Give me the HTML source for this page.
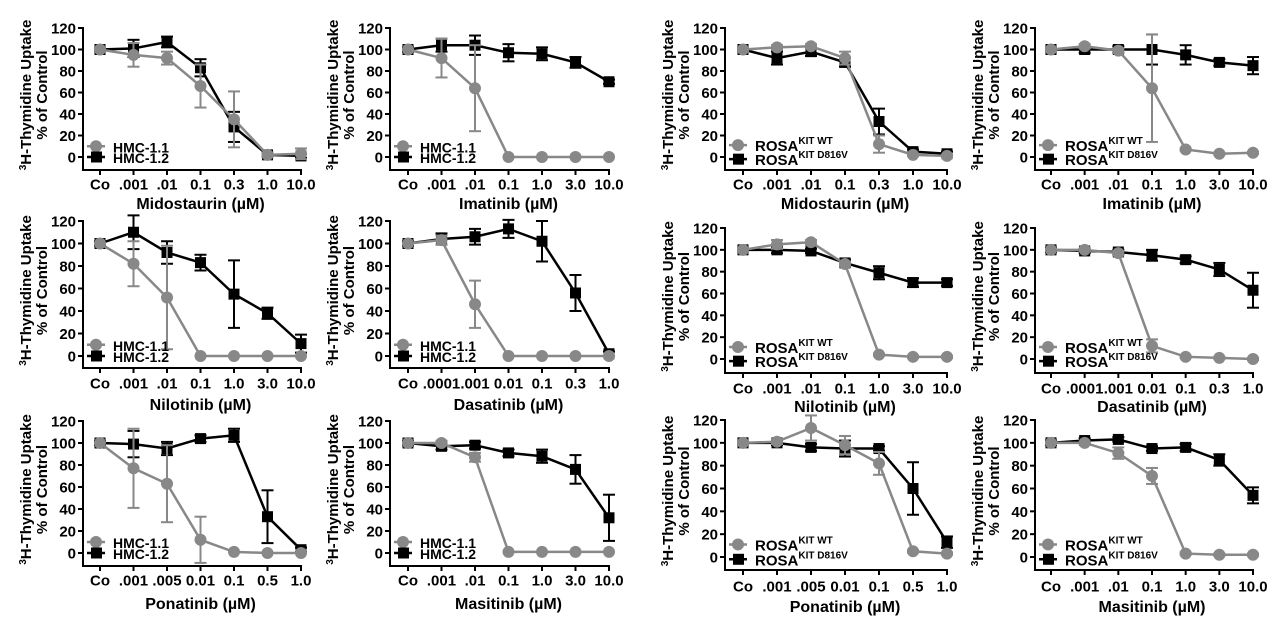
<!DOCTYPE html>
<html><head><meta charset="utf-8"><style>
body{margin:0;background:#fff}
svg{display:block;font-family:"Liberation Sans",Arial,sans-serif;font-weight:bold}
</style></head><body>
<svg id="fig" width="1280" height="623" viewBox="0 0 1280 623"></svg>
<script>
const drugs=["Midostaurin","Imatinib","Midostaurin","Imatinib","Nilotinib","Dasatinib","Nilotinib","Dasatinib","Ponatinib","Masitinib","Ponatinib","Masitinib"];
const cats1=["Co",".001",".01","0.1","0.3","1.0","10.0"];
const cats2=["Co",".001",".01","0.1","1.0","3.0","10.0"];
const cats3=["Co",".0001",".001","0.01","0.1","0.3","1.0"];
const cats4=["Co",".001",".005","0.01","0.1","0.5","1.0"];
const catsByPanel=[cats1,cats2,cats1,cats2,cats2,cats3,cats2,cats3,cats4,cats2,cats4,cats2];
const grayVals=[[100,95,92,66,35,2,3],[100,92,64,0,0,0,0],[100,102,103,92,12,2,1],[100,103,99,64,7,3,4],
[100,82,52,0,0,0,0],[100,103,46,0,0,0,0],[100,105,107,87,4,2,2],[100,100,97,12,2,1,0],
[100,77,63,12,1,0,0],[100,100,87,1,1,1,1],[100,101,113,98,82,5,3],[100,100,91,71,3,2,2]];
const grayErr=[[2,11,6,20,26,2,5],[0,18,40,0,0,0,0],[2,2,2,6,8,1,1],[2,2,2,50,1,1,1],
[0,20,46,0,0,0,0],[0,4,21,0,0,0,0],[2,4,2,2,1,1,1],[1,1,2,6,1,1,1],
[0,36,35,21,0,0,0],[1,2,4,0,0,0,0],[2,2,11,8,10,1,1],[1,1,5,7,1,1,1]];
const blackVals=[[100,101,107,83,28,2,1],[100,104,104,97,96,88,70],[100,92,98,88,33,5,3],[100,100,100,100,95,88,85],
[100,110,92,83,55,38,11],[100,104,106,113,102,56,2],[100,100,99,88,79,70,70],[100,99,98,95,91,82,63],
[100,99,95,104,107,33,3],[100,97,98,91,88,76,32],[100,100,96,95,95,60,13],[100,102,103,95,96,85,54]];
const blackErr=[[2,8,5,8,14,2,2],[2,6,9,8,6,5,2],[2,6,4,4,12,2,2],[2,3,3,14,9,3,8],
[2,15,10,7,30,5,8],[2,5,7,8,18,16,2],[2,3,2,3,6,4,3],[2,2,2,5,3,6,16],
[2,12,6,3,6,24,2],[2,3,3,3,6,13,21],[2,2,3,7,2,23,5],[2,2,2,2,3,5,7]];
const yTicks=[0,20,40,60,80,100,120];

const NS="http://www.w3.org/2000/svg";
const svg=document.getElementById('fig');
function mk(tag,attrs,parent,text){const e=document.createElementNS(NS,tag);for(const k in attrs)e.setAttribute(k,attrs[k]);if(text!==undefined)e.textContent=text;(parent||svg).appendChild(e);return e;}

const rows=[{yTop:28,yZero:157,xl:170,tk:184,tt:203},{yTop:221,yZero:356,xl:368,tk:383,tt:404},{yTop:421,yZero:553,xl:566,tk:580,tt:603}];
const rowsR=[{yTop:28,yZero:157,xl:170,tk:184,tt:203},{yTop:228,yZero:359,xl:373,tk:388,tt:406},{yTop:420,yZero:557,xl:570,tk:586,tt:606}];
const cols=[{ax:83,c0:100,c1:301},{ax:390,c0:408,c1:609},{ax:725,c0:743,c1:947},{ax:1035,c0:1051,c1:1253}];

for(let p=0;p<12;p++){
  const r=Math.floor(p/4),c=p%4,rosa=c>=2;
  const R=rosa?rowsR[r]:rows[r],C=cols[c];
  const cats=catsByPanel[p];
  const g=mk('g',{});
  
  
  const ys=v=>R.yZero-(v/120)*(R.yZero-R.yTop);
  const xs=i=>C.c0+i*(C.c1-C.c0)/(cats.length-1);
  const ya=mk('line',{x1:C.ax,y1:R.yTop-1,x2:C.ax,y2:R.xl,stroke:'#000','stroke-width':2},g);
  
  const xa=mk('line',{x1:C.ax-1,y1:R.xl,x2:C.c1+1,y2:R.xl,stroke:'#000','stroke-width':2},g);
  
  yTicks.forEach(t=>{
    mk('line',{x1:C.ax-5,y1:ys(t),x2:C.ax,y2:ys(t),stroke:'#000','stroke-width':2},g);
    const tl=mk('text',{x:C.ax-7,y:ys(t)+5.5,'text-anchor':'end','font-size':15},g,t);
    
  });
  cats.forEach((cn,i)=>{
    mk('line',{x1:xs(i),y1:R.xl,x2:xs(i),y2:R.xl+5,stroke:'#000','stroke-width':2},g);
    const tl=mk('text',{x:xs(i),y:R.tk+5.5,'text-anchor':'middle','font-size':15},g,cn);
    
  });
  const xt=mk('text',{x:(C.c0+C.c1)/2,y:R.tt+6,'text-anchor':'middle','font-size':16},g,drugs[p]+' (µM)');
  
  const ycx=(R.yTop+R.xl)/2-4;
  const yt=mk('text',{transform:`translate(${C.ax-52},${ycx}) rotate(-90)`,'text-anchor':'middle','font-size':15},g);
  
  mk('tspan',{'font-size':10,dy:-5},yt,'3');
  mk('tspan',{dy:5},yt,'H-Thymidine Uptake');
  const yt2=mk('text',{transform:`translate(${C.ax-36},${ycx}) rotate(-90)`,'text-anchor':'middle','font-size':15},g,'% of Control');
  
  const series=[{v:blackVals[p],e:blackErr[p],col:'#000',sq:true},{v:grayVals[p],e:grayErr[p],col:'#888',sq:false}];
  series.forEach((s,si)=>{
    const pts=s.v.map((v,i)=>xs(i)+','+ys(v)).join(' ');
    const pl=mk('polyline',{points:pts,fill:'none',stroke:s.col,'stroke-width':2.5},g);
    
    s.v.forEach((v,i)=>{
      const x=xs(i),y=ys(v),e=s.e[i];
      if(e>0){
        mk('line',{x1:x,y1:ys(v+e),x2:x,y2:ys(v-e),stroke:s.col,'stroke-width':2},g);
        mk('line',{x1:x-6,y1:ys(v+e),x2:x+6,y2:ys(v+e),stroke:s.col,'stroke-width':2},g);
        mk('line',{x1:x-6,y1:ys(v-e),x2:x+6,y2:ys(v-e),stroke:s.col,'stroke-width':2},g);
      }
      let m;
      if(s.sq)m=mk('rect',{x:x-5.5,y:y-5.5,width:11,height:11,fill:s.col},g);
      else m=mk('circle',{cx:x,cy:y,r:6,fill:s.col},g);
      
    });
  });
  const lx=C.ax+10, ly1=rosa?ys(11):ys(10), ly2=rosa?ys(-2):ys(0);
  const names=rosa?[['ROSA','KIT WT'],['ROSA','KIT D816V']]:[['HMC-1.1',''],['HMC-1.2','']];
  [[ly1,'#888',false],[ly2,'#000',true]].forEach(([ly,col,sq],k)=>{
    const lg=mk('g',{},g);
    
    mk('line',{x1:lx-6,y1:ly,x2:lx+12,y2:ly,stroke:col,'stroke-width':2.5},lg);
    if(sq)mk('rect',{x:lx-2,y:ly-5.5,width:11,height:11,fill:col},lg);
    else mk('circle',{cx:lx+3,cy:ly,r:6,fill:col},lg);
    const t=mk('text',{x:lx+20,y:ly+6,'font-size':rosa?15:14},lg,names[k][0]);
    if(names[k][1]){mk('tspan',{'font-size':10,dy:-7},t,names[k][1]);}
  });
}
</script>
</body></html>
